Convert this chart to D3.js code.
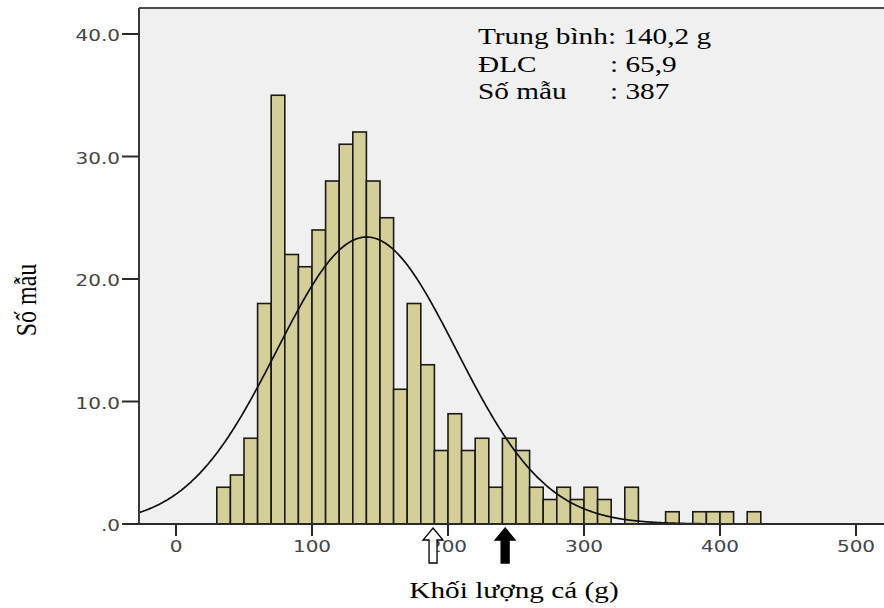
<!DOCTYPE html>
<html>
<head>
<meta charset="utf-8">
<script src="https://cdn.jsdelivr.net/npm/d3@7"></script>
<style>
  html, body { margin: 0; padding: 0; background: #fff; }
  svg { display: block; }
</style>
</head>
<body>
<svg id="chart" width="884" height="608"></svg>
<script>
// histogram bins (lower edge of each 10 g bin) and counts
const binLower = [30, 40, 50, 60, 70, 80, 90, 100, 110, 120, 130, 140, 150, 160, 170, 180, 190,
  200, 210, 220, 230, 240, 250, 260, 270, 280, 290, 300, 310, 320, 330, 340, 350, 360, 370,
  380, 390, 400, 410, 420];
const counts = [3, 4, 7, 18, 35, 22, 21, 24, 28, 31, 32, 28, 25, 11, 18, 13, 6,
  9, 6, 7, 3, 7, 6, 3, 2, 3, 2, 3, 2, 0, 3, 0, 0, 1, 0,
  1, 1, 1, 0, 1];
const binWidth = 10;

// summary stats (used for the fitted normal curve)
const mean = 140.2, sd = 65.9, nFish = 387;

const xTicks = [0, 100, 200, 300, 400, 500];
const yTicks = [0, 10, 20, 30, 40];
const yTickLabels = [".0", "10.0", "20.0", "30.0", "40.0"];

// arrow markers under the x axis
const arrowMarks = [
  { value: 189, fill: "#fff" },
  { value: 242, fill: "#000" }
];

const statLines = [
  { label: "Trung bình: 140,2 g", value: "" },
  { label: "ĐLC", value: ": 65,9" },
  { label: "Số mẫu", value: ": 387" }
];

const svg = d3.select("#chart");
const pLeft = 139, pTop = 8, pBottom = 524, pRight = 884;
const sxSans = 1.25, sxSerif = 1.22;

const x = d3.scaleLinear().domain([0, 500]).range([176, 856]);
const y = d3.scaleLinear().domain([0, 40]).range([pBottom, 34]);

// plot background
svg.append("rect")
  .attr("x", pLeft).attr("y", pTop)
  .attr("width", pRight - pLeft).attr("height", pBottom - pTop)
  .attr("fill", "#f0f0f0");

svg.append("clipPath").attr("id", "plotclip")
  .append("rect")
  .attr("x", pLeft).attr("y", pTop)
  .attr("width", pRight - pLeft).attr("height", pBottom - pTop);

// bars
svg.append("g")
  .selectAll("rect")
  .data(binLower.map((b, i) => ({ b, c: counts[i] })).filter(d => d.c > 0))
  .join("rect")
    .attr("x", d => x(d.b))
    .attr("y", d => y(d.c))
    .attr("width", d => x(d.b + binWidth) - x(d.b))
    .attr("height", d => y(0) - y(d.c))
    .attr("fill", "#d4cf98")
    .attr("stroke", "#1a1a16")
    .attr("stroke-width", 1.6);

// normal curve fitted with mean / sd
const xmin = x.invert(pLeft), xmax = x.invert(pRight);
const curvePts = d3.range(xmin, xmax + 1, 1).map(v => {
  const z = (v - mean) / sd;
  return [v, nFish * binWidth / (sd * Math.sqrt(2 * Math.PI)) * Math.exp(-0.5 * z * z)];
});
svg.append("path")
  .datum(curvePts)
  .attr("clip-path", "url(#plotclip)")
  .attr("fill", "none")
  .attr("stroke", "#111")
  .attr("stroke-width", 1.7)
  .attr("d", d3.line().x(d => x(d[0])).y(d => y(d[1])).curve(d3.curveBasis));

// frame: top and left border, x axis line
svg.append("line")
  .attr("x1", pLeft).attr("x2", pRight).attr("y1", pTop).attr("y2", pTop)
  .attr("stroke", "#4a4a4a").attr("stroke-width", 2);
svg.append("line")
  .attr("x1", pLeft).attr("x2", pLeft).attr("y1", pTop).attr("y2", pBottom)
  .attr("stroke", "#3a3a3a").attr("stroke-width", 2);
svg.append("line")
  .attr("x1", 122).attr("x2", pRight).attr("y1", pBottom).attr("y2", pBottom)
  .attr("stroke", "#2a2a2a").attr("stroke-width", 2);

// y ticks
const yg = svg.append("g");
yg.selectAll("line").data(yTicks).join("line")
  .attr("x1", 122).attr("x2", pLeft)
  .attr("y1", d => y(d)).attr("y2", d => y(d))
  .attr("stroke", "#2a2a2a").attr("stroke-width", 2);
yg.selectAll("text").data(yTicks).join("text")
  .attr("transform", d => `translate(120,${y(d) + 7}) scale(${sxSans},1)`)
  .attr("text-anchor", "end")
  .attr("font-family", "DejaVu Sans")
  .attr("font-size", 16)
  .attr("fill", "#444")
  .text((d, i) => yTickLabels[i]);

// x ticks
const xg = svg.append("g");
xg.selectAll("line").data(xTicks).join("line")
  .attr("x1", d => x(d)).attr("x2", d => x(d))
  .attr("y1", pBottom).attr("y2", pBottom + 12)
  .attr("stroke", "#2a2a2a").attr("stroke-width", 2);
xg.selectAll("text").data(xTicks).join("text")
  .attr("transform", d => `translate(${x(d)},552) scale(${sxSans},1)`)
  .attr("text-anchor", "middle")
  .attr("font-family", "DejaVu Sans")
  .attr("font-size", 16)
  .attr("fill", "#444")
  .text(d => d);

// arrows
const arrow = "M0,0 L10,12 L4,12 L4,35 L-4,35 L-4,12 L-10,12 Z";
svg.append("g").selectAll("path").data(arrowMarks).join("path")
  .attr("transform", d => `translate(${x(d.value)},528)`)
  .attr("d", arrow)
  .attr("fill", d => d.fill)
  .attr("stroke", "#000")
  .attr("stroke-width", 1.3);

// stats box text
const serif = "Liberation Serif, Times New Roman, serif";
const st = svg.append("g");
statLines.forEach((s, i) => {
  const by = 44 + i * 27.5;
  st.append("text")
    .attr("transform", `translate(478,${by}) scale(${sxSerif},1)`)
    .attr("font-family", serif).attr("font-size", 24).attr("fill", "#000")
    .text(s.label);
  if (s.value) {
    st.append("text")
      .attr("transform", `translate(610,${by}) scale(${sxSerif},1)`)
      .attr("font-family", serif).attr("font-size", 24).attr("fill", "#000")
      .text(s.value);
  }
});

// axis titles
svg.append("text")
  .attr("transform", `translate(514,598) scale(${sxSerif},1)`)
  .attr("text-anchor", "middle")
  .attr("font-family", serif).attr("font-size", 24)
  .text("Khối lượng cá (g)");
svg.append("text")
  .attr("transform", `translate(36,300) rotate(-90) scale(1,${sxSerif})`)
  .attr("text-anchor", "middle")
  .attr("font-family", serif).attr("font-size", 24)
  .text("Số mẫu");
</script>
</body>
</html>
